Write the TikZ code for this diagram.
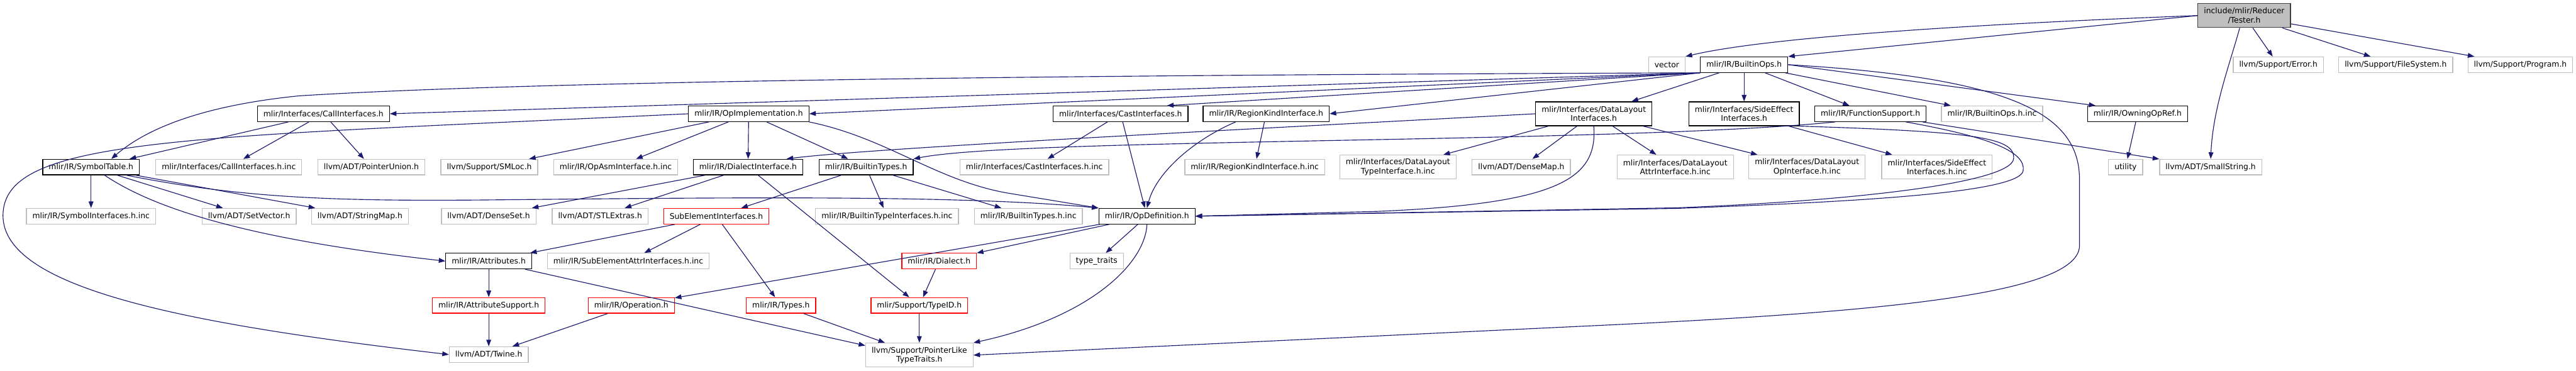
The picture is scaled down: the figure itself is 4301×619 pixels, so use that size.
\documentclass[tikz,border=0pt]{standalone}
\usepackage{fontspec}
\setmainfont{DejaVu Sans}
\usetikzlibrary{arrows.meta}
\definecolor{DoxBlue}{HTML}{191970}
\definecolor{DoxBlack}{HTML}{000000}
\definecolor{DoxDark}{HTML}{404040}
\definecolor{DoxGray}{HTML}{BFBFBF}
\definecolor{DoxRed}{HTML}{FF0000}
\tikzset{
    % Node styles
    filebox/.style={
        rectangle,
        draw=DoxBlack,
        fill=white,
        line width=1.3pt,
        minimum height=26pt,
        inner xsep=10pt,
        inner ysep=6pt,
        align=center,
        font=\fontsize{13}{15}\selectfont
    },
    extbox/.style={filebox, draw=DoxGray},
    truncbox/.style={filebox, draw=DoxRed},
    rootbox/.style={filebox, draw=DoxDark, fill=DoxGray},
    tallbox/.style={minimum height=40pt},
    % Arrow styles
    myarrow/.style={
        ->,
        >={Triangle[length=11pt,width=8pt]},
        line width=1.2pt,
        DoxBlue
    }
}

\begin{document}
\begin{tikzpicture}[x=1pt, y=-1pt]
    \useasboundingbox (0,0) rectangle (4301,619);

    % Root and first level
    \node[rootbox,tallbox] (tester) at (3747,26) {include/mlir/Reducer\\/Tester.h};
    \node[extbox] (vec) at (2783,108) {vector};
    \node[filebox] (bops) at (2912,108) {mlir/IR/BuiltinOps.h};
    \node[extbox] (err) at (3804,108) {llvm/Support/Error.h};
    \node[extbox] (fsys) at (4000,108) {llvm/Support/FileSystem.h};
    \node[extbox] (prog) at (4208,108) {llvm/Support/Program.h};

    % Second level
    \node[filebox] (callif) at (540,190) {mlir/Interfaces/CallInterfaces.h};
    \node[filebox] (opimpl) at (1250,190) {mlir/IR/OpImplementation.h};
    \node[filebox] (castif) at (1871,190) {mlir/Interfaces/CastInterfaces.h};
    \node[filebox] (regkind) at (2114,190) {mlir/IR/RegionKindInterface.h};
    \node[filebox,tallbox] (dlif) at (2661,190) {mlir/Interfaces/DataLayout\\Interfaces.h};
    \node[filebox,tallbox] (seif) at (2912,190) {mlir/Interfaces/SideEffect\\Interfaces.h};
    \node[filebox] (funcsup) at (3123,190) {mlir/IR/FunctionSupport.h};
    \node[extbox] (bopsinc) at (3326,190) {mlir/IR/BuiltinOps.h.inc};
    \node[filebox] (owning) at (3569,190) {mlir/IR/OwningOpRef.h};

    % Third level
    \node[filebox] (symtab) at (152,279) {mlir/IR/SymbolTable.h};
    \node[extbox] (callifinc) at (382,279) {mlir/Interfaces/CallInterfaces.h.inc};
    \node[extbox] (ptrunion) at (620,279) {llvm/ADT/PointerUnion.h};
    \node[extbox] (smloc) at (817,279) {llvm/Support/SMLoc.h};
    \node[extbox] (opasminc) at (1028,279) {mlir/IR/OpAsmInterface.h.inc};
    \node[filebox] (dialif) at (1249,279) {mlir/IR/DialectInterface.h};
    \node[filebox] (btypes) at (1446,279) {mlir/IR/BuiltinTypes.h};
    \node[extbox] (castifinc) at (1727,279) {mlir/Interfaces/CastInterfaces.h.inc};
    \node[extbox] (regkindinc) at (2095,279) {mlir/IR/RegionKindInterface.h.inc};
    \node[extbox,tallbox] (dltypeinc) at (2334,279) {mlir/Interfaces/DataLayout\\TypeInterface.h.inc};
    \node[extbox] (densemap) at (2540,279) {llvm/ADT/DenseMap.h};
    \node[extbox,tallbox] (dlattrinc) at (2797,279) {mlir/Interfaces/DataLayout\\AttrInterface.h.inc};
    \node[extbox,tallbox] (dlopinc) at (3017,279) {mlir/Interfaces/DataLayout\\OpInterface.h.inc};
    \node[extbox,tallbox] (seifinc) at (3234,279) {mlir/Interfaces/SideEffect\\Interfaces.h.inc};
    \node[extbox] (utility) at (3549,279) {utility};
    \node[extbox] (smallstr) at (3691,279) {llvm/ADT/SmallString.h};

    % Fourth level
    \node[extbox] (symifinc) at (152,361) {mlir/IR/SymbolInterfaces.h.inc};
    \node[extbox] (setvec) at (416,361) {llvm/ADT/SetVector.h};
    \node[extbox] (strmap) at (601,361) {llvm/ADT/StringMap.h};
    \node[extbox] (denseset) at (816,361) {llvm/ADT/DenseSet.h};
    \node[extbox] (stlext) at (1002,361) {llvm/ADT/STLExtras.h};
    \node[truncbox] (subelem) at (1196,361) {SubElementInterfaces.h};
    \node[extbox] (btypeifinc) at (1481,361) {mlir/IR/BuiltinTypeInterfaces.h.inc};
    \node[extbox] (btypesinc) at (1717,361) {mlir/IR/BuiltinTypes.h.inc};
    \node[filebox] (opdef) at (1915,361) {mlir/IR/OpDefinition.h};

    % Lower levels
    \node[filebox] (attrs) at (816,436) {mlir/IR/Attributes.h};
    \node[extbox] (subattrinc) at (1049,436) {mlir/IR/SubElementAttrInterfaces.h.inc};
    \node[truncbox] (dialect) at (1568,436) {mlir/IR/Dialect.h};
    \node[extbox] (typetraits) at (1831,436) {type\_traits};
    \node[truncbox] (attrsup) at (816,510) {mlir/IR/AttributeSupport.h};
    \node[truncbox] (operation) at (1054,510) {mlir/IR/Operation.h};
    \node[truncbox] (types) at (1304,510) {mlir/IR/Types.h};
    \node[truncbox] (typeid) at (1535,510) {mlir/Support/TypeID.h};
    \node[extbox] (twine) at (816,592) {llvm/ADT/Twine.h};
    \node[extbox,tallbox] (ptrlike) at (1535,593) {llvm/Support/PointerLike\\TypeTraits.h};

    % Tester.h includes
    \draw[myarrow] (tester.west) .. controls (3300,40) and (2950,62) .. (vec.north east);
    \draw[myarrow] (tester.west) -- (bops.north east);
    \draw[myarrow] (tester) -- (err);
    \draw[myarrow] (tester) -- (fsys);
    \draw[myarrow] (tester) -- (prog);
    \draw[myarrow] (tester.250) .. controls (3722,110) and (3695,180) .. (smallstr.north);

    % BuiltinOps.h includes
    \draw[myarrow] (bops.south west) .. controls (1800,125) and (900,135) .. (500,160)
        .. controls (350,175) and (250,210) .. (symtab.22);
    \draw[myarrow] (bops.south west) -- (callif.east);
    \draw[myarrow] (bops.south west) -- (opimpl.east);
    \draw[myarrow] (bops.south west) -- (castif.10);
    \draw[myarrow] (bops.south west) -- (regkind.east);
    \draw[myarrow] (bops) -- (dlif);
    \draw[myarrow] (bops) -- (seif);
    \draw[myarrow] (bops) -- (funcsup);
    \draw[myarrow] (bops) -- (bopsinc);
    \draw[myarrow] (bops.east) -- (owning.169);
    \draw[myarrow] (bops.east) .. controls (3360,130) and (3472,190) .. (3472,300) -- (3472,410)
        .. controls (3472,490) and (3150,520) .. (2700,542) -- (ptrlike.east);

    % second level includes
    \draw[myarrow] (callif) -- (symtab.12);
    \draw[myarrow] (callif) -- (callifinc);
    \draw[myarrow] (callif) -- (ptrunion);
    \draw[myarrow] (opimpl.west) .. controls (300,230) and (5,230) .. (5,360)
        .. controls (5,480) and (300,540) .. (twine.west);
    \draw[myarrow] (opimpl) -- (smloc);
    \draw[myarrow] (opimpl) -- (opasminc);
    \draw[myarrow] (opimpl) -- (dialif);
    \draw[myarrow] (opimpl) -- (btypes);
    \draw[myarrow] (opimpl.south east) .. controls (1480,230) and (1560,300) .. (1680,322) -- (opdef.north west);
    \draw[myarrow] (castif) -- (castifinc);
    \draw[myarrow] (castif) -- (opdef);
    \draw[myarrow] (regkind) -- (regkindinc);
    \draw[myarrow] (regkind.195) .. controls (1990,235) and (1930,290) .. (opdef.north);
    \draw[myarrow] (dlif.west) .. controls (2000,220) and (1450,248) .. (dialif.12);
    \draw[myarrow] (dlif) -- (dltypeinc);
    \draw[myarrow] (dlif) -- (densemap);
    \draw[myarrow] (dlif) -- (dlattrinc);
    \draw[myarrow] (dlif) -- (dlopinc);
    \draw[myarrow] (dlif.south) .. controls (2668,300) and (2600,340) .. (2300,353) -- (opdef.east);
    \draw[myarrow] (seif) -- (seifinc);
    \draw[myarrow] (seif.south east) .. controls (3300,220) and (3365,230) .. (3362,265)
        .. controls (3358,305) and (3100,335) .. (2800,347) -- (opdef.east);
    \draw[myarrow] (funcsup.193) .. controls (2700,240) and (1700,230) .. (btypes.north east);
    \draw[myarrow] (funcsup) -- (smallstr);
    \draw[myarrow] (funcsup.-13) .. controls (3330,230) and (3382,255) .. (3378,285)
        .. controls (3372,322) and (3100,337) .. (2800,348) -- (opdef.east);
    \draw[myarrow] (owning) -- (utility);

    % third level includes
    \draw[myarrow] (symtab) -- (symifinc);
    \draw[myarrow] (symtab) -- (setvec);
    \draw[myarrow] (symtab) -- (strmap);
    \draw[myarrow] (symtab.-31) .. controls (260,350) and (420,400) .. (attrs.west);
    \draw[myarrow] (symtab.-13) .. controls (400,330) and (550,336) .. (800,334)
        .. controls (1200,330) and (1600,325) .. (opdef.north west);
    \draw[myarrow] (dialif) -- (denseset);
    \draw[myarrow] (dialif) -- (stlext);
    \draw[myarrow] (dialif) -- (typeid);
    \draw[myarrow] (btypes) -- (subelem);
    \draw[myarrow] (btypes) -- (btypeifinc);
    \draw[myarrow] (btypes) -- (btypesinc);

    % lower includes
    \draw[myarrow] (subelem) -- (attrs);
    \draw[myarrow] (subelem) -- (subattrinc);
    \draw[myarrow] (subelem) -- (types);
    \draw[myarrow] (opdef) -- (dialect);
    \draw[myarrow] (opdef) -- (typetraits);
    \draw[myarrow] (opdef) -- (operation);
    \draw[myarrow] (opdef.south) .. controls (1912,440) and (1820,530) .. (ptrlike.north east);
    \draw[myarrow] (dialect) -- (typeid);
    \draw[myarrow] (typeid) -- (ptrlike);
    \draw[myarrow] (types) -- (ptrlike);
    \draw[myarrow] (attrs) -- (ptrlike.170);
    \draw[myarrow] (attrs) -- (attrsup);
    \draw[myarrow] (attrsup) -- (twine);
    \draw[myarrow] (operation) -- (twine);
\end{tikzpicture}
\end{document}
